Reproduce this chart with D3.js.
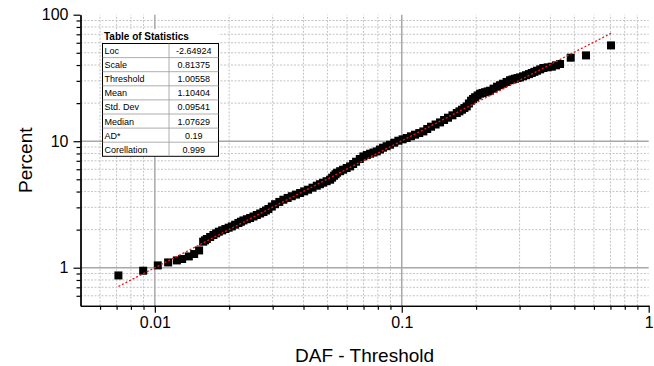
<!DOCTYPE html>
<html>
<head>
<meta charset="utf-8">
<script src="https://cdn.jsdelivr.net/npm/d3@7"></script>
<style>
  body { margin: 0; background: #fff; }
  svg { display: block; font-family: "Liberation Sans", Arial, sans-serif; }
</style>
</head>
<body>
<svg id="chart" width="654" height="366"></svg>
<script>
// Probability plot: DAF - Threshold (x) versus cumulative percent (y)
const dafValues = [
  0.00712, 0.00897, 0.01028, 0.01132, 0.01228, 0.0129, 0.01373, 0.01443, 0.01511, 0.01569,
  0.01596, 0.01624, 0.01675, 0.01727, 0.01771, 0.01816, 0.01873, 0.01931, 0.0199, 0.0205,
  0.02115, 0.0218, 0.02232, 0.02285, 0.02358, 0.02431, 0.02509, 0.02588, 0.0267, 0.02753,
  0.02818, 0.02884, 0.02976, 0.03069, 0.03192, 0.03316, 0.03451, 0.03586, 0.03731, 0.03876,
  0.04025, 0.04175, 0.04351, 0.04527, 0.04663, 0.048, 0.04963, 0.05126, 0.05223, 0.05321,
  0.05396, 0.05472, 0.05629, 0.05786, 0.05981, 0.06177, 0.06354, 0.06531, 0.06761, 0.06991,
  0.07216, 0.07441, 0.07681, 0.07921, 0.0816, 0.084, 0.08683, 0.08966, 0.09326, 0.09687,
  0.1008, 0.1047, 0.1089, 0.1132, 0.1177, 0.1223, 0.1268, 0.1314, 0.1371, 0.1429,
  0.1484, 0.1539, 0.1604, 0.167, 0.1712, 0.1754, 0.1793, 0.1833, 0.187, 0.1908,
  0.1944, 0.1981, 0.2028, 0.2075, 0.2124, 0.2174, 0.2226, 0.2278, 0.2354, 0.2431,
  0.2501, 0.2571, 0.2658, 0.2745, 0.281, 0.2875, 0.2943, 0.3012, 0.3099, 0.3186,
  0.3273, 0.336, 0.3445, 0.353, 0.3637, 0.3745, 0.3897, 0.405, 0.4212, 0.4375,
  0.4833, 0.5574, 0.7038
];
const percentValues = [
  0.869, 0.947, 1.043, 1.101, 1.142, 1.172, 1.228, 1.283, 1.370, 1.606,
  1.646, 1.686, 1.750, 1.814, 1.870, 1.926, 1.974, 2.023, 2.072, 2.121,
  2.188, 2.256, 2.310, 2.365, 2.418, 2.471, 2.540, 2.610, 2.683, 2.756,
  2.833, 2.911, 3.044, 3.177, 3.312, 3.447, 3.561, 3.675, 3.785, 3.895,
  4.016, 4.137, 4.292, 4.448, 4.572, 4.697, 4.829, 4.962, 5.150, 5.338,
  5.487, 5.636, 5.794, 5.952, 6.137, 6.322, 6.603, 6.885, 7.234, 7.583,
  7.774, 7.965, 8.136, 8.307, 8.595, 8.884, 9.134, 9.383, 9.736, 10.09,
  10.35, 10.60, 10.93, 11.26, 11.60, 11.95, 12.49, 13.02, 13.55, 14.08,
  14.71, 15.34, 16.02, 16.71, 17.22, 17.74, 18.29, 18.84, 19.87, 20.90,
  21.58, 22.27, 23.00, 23.74, 24.07, 24.40, 24.73, 25.07, 26.02, 26.97,
  27.72, 28.48, 29.41, 30.35, 30.77, 31.19, 31.56, 31.94, 32.59, 33.24,
  33.92, 34.60, 35.34, 36.08, 36.99, 37.91, 38.36, 38.81, 39.78, 40.76,
  45.72, 47.68, 57.19
];

// Fitted distribution line (end points)
const fitDaf = [0.00712, 0.708];
const fitPercent = [0.711, 71.7];

const xTickValues = [0.01, 0.1, 1];
const xTickLabels = ["0.01", "0.1", "1"];
const yTickValues = [1, 10, 100];
const yTickLabels = ["1", "10", "100"];

const statNames = ["Loc", "Scale", "Threshold", "Mean", "Std. Dev", "Median", "AD*", "Corellation"];
const statValues = ["-2.64924", "0.81375", "1.00558", "1.10404", "0.09541", "1.07629", "0.19", "0.999"];

const svg = d3.select("#chart");

const x = d3.scaleLog().domain([0.005, 1]).range([80.5, 648.7]);
const y = d3.scaleLog().domain([0.5, 100]).range([305.8, 14.7]);

const xMinor = x.ticks().filter(d => !xTickValues.some(t => Math.abs(t - d) < 1e-9) && d > 0.0051);
const yMinor = y.ticks().filter(d => !yTickValues.some(t => Math.abs(t - d) < 1e-9) && d > 0.51);

// Grid: dotted minor lines, solid major lines
const grid = svg.append("g");
grid.selectAll(".vmin").data(xMinor).join("line")
  .attr("x1", d => x(d)).attr("x2", d => x(d))
  .attr("y1", y.range()[0]).attr("y2", y.range()[1])
  .attr("stroke", "#c4c4c4").attr("stroke-width", 1).attr("stroke-dasharray", "2,1.5");
grid.selectAll(".hmin").data(yMinor).join("line")
  .attr("y1", d => y(d)).attr("y2", d => y(d))
  .attr("x1", x.range()[0]).attr("x2", x.range()[1])
  .attr("stroke", "#c4c4c4").attr("stroke-width", 1).attr("stroke-dasharray", "2,1.5");
grid.selectAll(".vmaj").data(xTickValues.filter(d => d < 1)).join("line")
  .attr("x1", d => x(d)).attr("x2", d => x(d))
  .attr("y1", y.range()[0]).attr("y2", y.range()[1])
  .attr("stroke", "#a8a8a8").attr("stroke-width", 1.5);
grid.selectAll(".hmaj").data(yTickValues.filter(d => d < 100)).join("line")
  .attr("y1", d => y(d)).attr("y2", d => y(d))
  .attr("x1", x.range()[0]).attr("x2", x.range()[1])
  .attr("stroke", "#a8a8a8").attr("stroke-width", 1.5);

// Axes
svg.append("g").attr("transform", `translate(0,${y.range()[0]})`)
  .call(d3.axisBottom(x).tickValues(xTickValues).tickFormat((d, i) => xTickLabels[i])
    .tickSize(7).tickSizeOuter(0).tickPadding(4));
svg.append("g").attr("transform", `translate(0,${y.range()[0]})`)
  .call(d3.axisBottom(x).tickValues(xMinor).tickFormat("").tickSize(4).tickSizeOuter(0));
svg.append("g").attr("transform", `translate(${x.range()[0]},0)`)
  .call(d3.axisLeft(y).tickValues(yTickValues).tickFormat((d, i) => yTickLabels[i])
    .tickSize(7).tickSizeOuter(0).tickPadding(5));
svg.append("g").attr("transform", `translate(${x.range()[0]},0)`)
  .call(d3.axisLeft(y).tickValues(yMinor).tickFormat("").tickSize(4).tickSizeOuter(0));

svg.selectAll(".domain").attr("stroke", "#000").attr("stroke-width", 1.3);
svg.selectAll(".tick line").attr("stroke", "#000").attr("stroke-width", 1.2);
svg.selectAll(".tick text").attr("font-size", 16).attr("fill", "#000")
  .attr("font-family", "'Liberation Sans', Arial, sans-serif");

// Axis titles
svg.append("text").attr("x", (x.range()[0] + x.range()[1]) / 2).attr("y", 362)
  .attr("text-anchor", "middle").attr("font-size", 19).text("DAF - Threshold");
svg.append("text").attr("transform", `translate(32,${(y.range()[0] + y.range()[1]) / 2}) rotate(-90)`)
  .attr("text-anchor", "middle").attr("font-size", 19).text("Percent");

// Data points
const points = dafValues.map((d, i) => ({ daf: d, pct: percentValues[i] }));
const s = 8;
svg.append("g").selectAll("rect").data(points).join("rect")
  .attr("x", d => x(d.daf) - s / 2).attr("y", d => y(d.pct) - s / 2)
  .attr("width", s).attr("height", s).attr("fill", "#000");

// Fit line
const fit = fitDaf.map((d, i) => [d, fitPercent[i]]);
svg.append("path").datum(fit)
  .attr("d", d3.line().x(d => x(d[0])).y(d => y(d[1])))
  .attr("fill", "none").attr("stroke", "#f01818").attr("stroke-width", 1.3)
  .attr("stroke-dasharray", "2,2");

// Statistics table
const tx = 102.5, tw = 116, ty = 43.5, rh = 14.1, cx = 169;
const table = svg.append("g");
table.append("rect").attr("x", tx).attr("y", 29).attr("width", tw).attr("height", ty - 29)
  .attr("fill", "#fff");
table.append("text").attr("x", tx + 1.5).attr("y", 39.5).attr("font-size", 10)
  .attr("font-weight", "bold").text("Table of Statistics");
table.append("rect").attr("x", tx).attr("y", ty).attr("width", tw).attr("height", rh * statNames.length)
  .attr("fill", "#fff").attr("stroke", "#000").attr("stroke-width", 1);
table.selectAll(".row").data(statNames.slice(1)).join("line")
  .attr("x1", tx).attr("x2", tx + tw)
  .attr("y1", (d, i) => ty + rh * (i + 1)).attr("y2", (d, i) => ty + rh * (i + 1))
  .attr("stroke", "#999").attr("stroke-width", 0.8);
table.append("line").attr("x1", cx).attr("x2", cx).attr("y1", ty).attr("y2", ty + rh * statNames.length)
  .attr("stroke", "#999").attr("stroke-width", 0.8);
table.selectAll(".name").data(statNames).join("text")
  .attr("x", tx + 2).attr("y", (d, i) => ty + rh * i + 10.5)
  .attr("font-size", 9).text(d => d);
table.selectAll(".val").data(statValues).join("text")
  .attr("x", (cx + tx + tw) / 2).attr("y", (d, i) => ty + rh * i + 10.5)
  .attr("text-anchor", "middle").attr("font-size", 9).text(d => d);
</script>
</body>
</html>
